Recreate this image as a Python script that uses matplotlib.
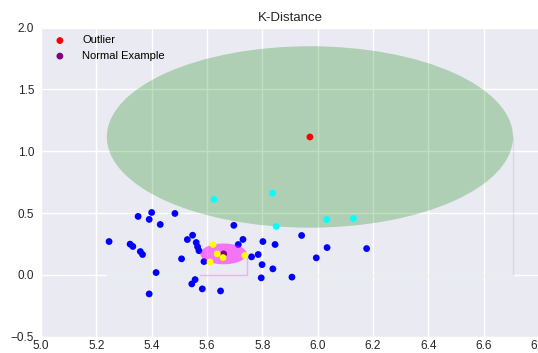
import matplotlib
matplotlib.use("Agg")
import matplotlib.pyplot as plt
from matplotlib.patches import Circle

# ---- data ----
blue_x = [5.246, 5.351, 5.400, 5.391, 5.431, 5.484, 5.322, 5.332, 5.359, 5.367,
          5.416, 5.391, 5.508, 5.529, 5.548, 5.561, 5.566, 5.571, 5.557, 5.545,
          5.583, 5.589, 5.649, 5.697, 5.713, 5.730, 5.761, 5.785, 5.802, 5.799,
          5.796, 5.846, 5.838, 5.907, 5.942, 6.034, 5.995, 6.177]
blue_y = [0.270, 0.473, 0.505, 0.449, 0.408, 0.497, 0.249, 0.230, 0.189, 0.165,
          0.019, -0.154, 0.130, 0.286, 0.321, 0.262, 0.227, 0.196, -0.038, -0.073,
          -0.113, 0.108, -0.130, 0.401, 0.246, 0.287, 0.146, 0.165, 0.270, 0.083,
          -0.024, 0.246, 0.049, -0.018, 0.319, 0.221, 0.138, 0.213]

cyan_x = [5.625, 5.837, 5.850, 6.033, 6.129]
cyan_y = [0.611, 0.662, 0.392, 0.448, 0.457]

yellow_x = [5.622, 5.637, 5.658, 5.611, 5.737]
yellow_y = [0.246, 0.170, 0.140, 0.105, 0.157]

outlier = (5.972, 1.116)
outlier_radius = 0.734
normal = (5.660, 0.170)
normal_radius = 0.084

legend_labels = ["Outlier", "Normal Example"]
title = "K-Distance"
x_ticks = [5.0, 5.2, 5.4, 5.6, 5.8, 6.0, 6.2, 6.4, 6.6, 6.8]
y_ticks = [-0.5, 0.0, 0.5, 1.0, 1.5, 2.0]

# ---- style ----
plt.rcParams['font.family'] = ['Liberation Sans', 'DejaVu Sans']
plt.rcParams['axes.unicode_minus'] = True

fig = plt.figure(figsize=(5.38, 3.53), dpi=100)
ax = fig.add_axes([41 / 538, 16.3 / 353, 498 / 538, 309 / 353])
ax.set_facecolor('#EAEAF2')
for s in ax.spines.values():
    s.set_visible(False)
ax.set_axisbelow(True)
ax.grid(True, color='white', linewidth=1.0)
ax.tick_params(length=0, labelsize=8.5, labelcolor='#262626')
ax.tick_params(axis='x', pad=2.5)
ax.tick_params(axis='y', pad=5)

# outlier circle + reach lines
ax.add_patch(Circle(outlier, outlier_radius, color='green', alpha=0.25, lw=0))
ax.plot([outlier[0] - outlier_radius, outlier[0] + outlier_radius, outlier[0] + outlier_radius],
        [0, 0, outlier[1]], color='green', alpha=0.1, lw=1)

# blue points
ax.scatter(blue_x, blue_y, s=24, color='blue', edgecolors='none', zorder=3)
ax.scatter(cyan_x, cyan_y, s=24, color='cyan', edgecolors='none', zorder=3)

# normal example circle
ax.add_patch(Circle(normal, normal_radius, color='magenta', alpha=0.5, lw=0, zorder=3))
ax.plot([normal[0] - normal_radius, normal[0] + normal_radius, normal[0] + normal_radius],
        [0, 0, normal[1]], color='magenta', alpha=0.25, lw=1, zorder=3)

ax.scatter([outlier[0]], [outlier[1]], s=24, color='red', edgecolors='none', zorder=4,
           label=legend_labels[0])
ax.scatter([normal[0]], [normal[1]], s=24, color='purple', edgecolors='none', zorder=4,
           label=legend_labels[1])
ax.scatter(yellow_x, yellow_y, s=24, color='yellow', edgecolors='none', zorder=5)

ax.set_xlim(5.0, 6.8)
ax.set_ylim(-0.5, 2.0)
ax.set_xticks(x_ticks)
ax.set_yticks(y_ticks)
ax.set_title(title, fontsize=9.5, color='#262626', pad=5)

ax.legend(loc='upper left', frameon=False, fontsize=8, scatterpoints=1,
          handletextpad=1.0, borderaxespad=0.3)

fig.savefig('out.png', dpi=100)
